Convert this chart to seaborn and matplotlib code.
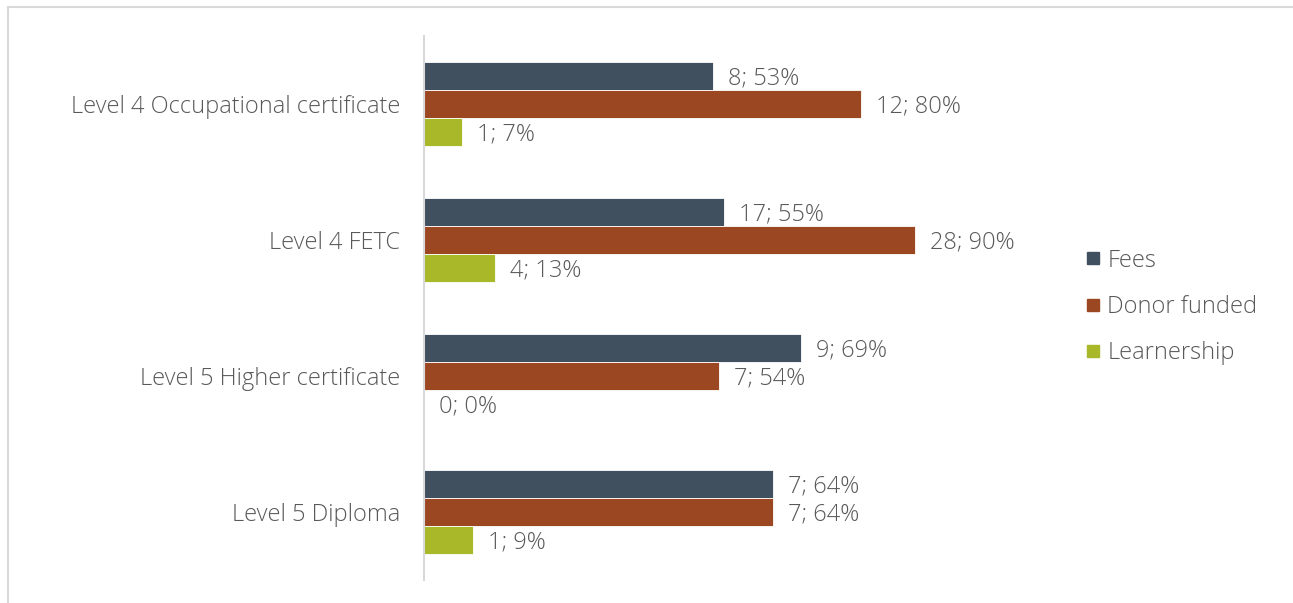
import matplotlib
matplotlib.use("Agg")
import matplotlib.pyplot as plt
from matplotlib.lines import Line2D
import seaborn as sns
import pandas as pd

# Qualification levels (top to bottom) and funding sources
qualifications = [
    "Level 4 Occupational certificate",
    "Level 4 FETC",
    "Level 5 Higher certificate",
    "Level 5 Diploma",
]
sources = ["Fees", "Donor funded", "Learnership"]

# Number of respondents and share (%) per funding source
fees_count = [8, 17, 9, 7]
fees_pct = [53, 55, 69, 64]
donor_count = [12, 28, 7, 7]
donor_pct = [80, 90, 54, 64]
learn_count = [1, 4, 0, 1]
learn_pct = [7, 13, 0, 9]

colors = ["#41505F", "#9B4722", "#A8B829"]
text_color = "#595959"
font_size = 17

rows = []
for src, counts, pcts in [
    ("Fees", fees_count, fees_pct),
    ("Donor funded", donor_count, donor_pct),
    ("Learnership", learn_count, learn_pct),
]:
    for q, c, p in zip(qualifications, counts, pcts):
        rows.append({"qualification": q, "source": src, "count": c, "pct": p})
df = pd.DataFrame(rows)

sns.set_theme(style="white")
plt.rcParams["font.family"] = ["Open Sans", "DejaVu Sans"]
plt.rcParams["font.weight"] = "light"

fig = plt.figure(figsize=(12.93, 6.03), dpi=100)
ax = fig.add_axes([424 / 1293, 1 - 580 / 603, (970 - 424) / 1293, (580 - 36) / 603])

sns.barplot(
    data=df, y="qualification", x="pct", hue="source",
    order=qualifications, hue_order=sources, palette=colors, saturation=1,
    orient="h", width=0.62, gap=0, ax=ax,
    edgecolor="white", linewidth=0.6, legend=False,
)

# Value labels "count; pct%" just past the end of each bar
for container, src in zip(ax.containers, sources):
    sub = df[df["source"] == src].set_index("qualification").loc[qualifications]
    for bar, (c, p) in zip(container, zip(sub["count"], sub["pct"])):
        y = bar.get_y() + bar.get_height() / 2
        ax.annotate(
            f"{c}; {p}%", xy=(p, y), xytext=(15, -2), textcoords="offset pixels",
            va="center", ha="left", fontsize=font_size, color=text_color,
        )

ax.set_xlim(0, 100)
ax.set_ylim(3.5, -0.5)
ax.set_xlabel("")
ax.set_ylabel("")
ax.set_xticks([])
ax.tick_params(axis="y", length=0, pad=17, labelsize=font_size, labelcolor=text_color)
for side in ["top", "right", "bottom"]:
    ax.spines[side].set_visible(False)
ax.spines["left"].set_color("#D9D9D9")
ax.spines["left"].set_linewidth(1.5)

handles = [
    Line2D([0], [0], marker="s", linestyle="none", markersize=9,
           markerfacecolor=col, markeredgecolor=col)
    for col in colors
]
fig.legend(
    handles, sources, loc="center left", bbox_to_anchor=(1085 / 1293, 1 - 307 / 603),
    frameon=False, fontsize=font_size, handlelength=0.7, handletextpad=0.25,
    labelspacing=0.95, labelcolor=text_color, borderpad=0, borderaxespad=0,
)

# Chart frame (top and left edges)
fig.add_artist(Line2D([8 / 1293, 1.0], [1 - 7 / 603, 1 - 7 / 603],
                      color="#D9D9D9", linewidth=1.5, transform=fig.transFigure))
fig.add_artist(Line2D([8 / 1293, 8 / 1293], [0.0, 1 - 7 / 603],
                      color="#D9D9D9", linewidth=1.5, transform=fig.transFigure))

fig.savefig("out.png", dpi=100, facecolor="white")
